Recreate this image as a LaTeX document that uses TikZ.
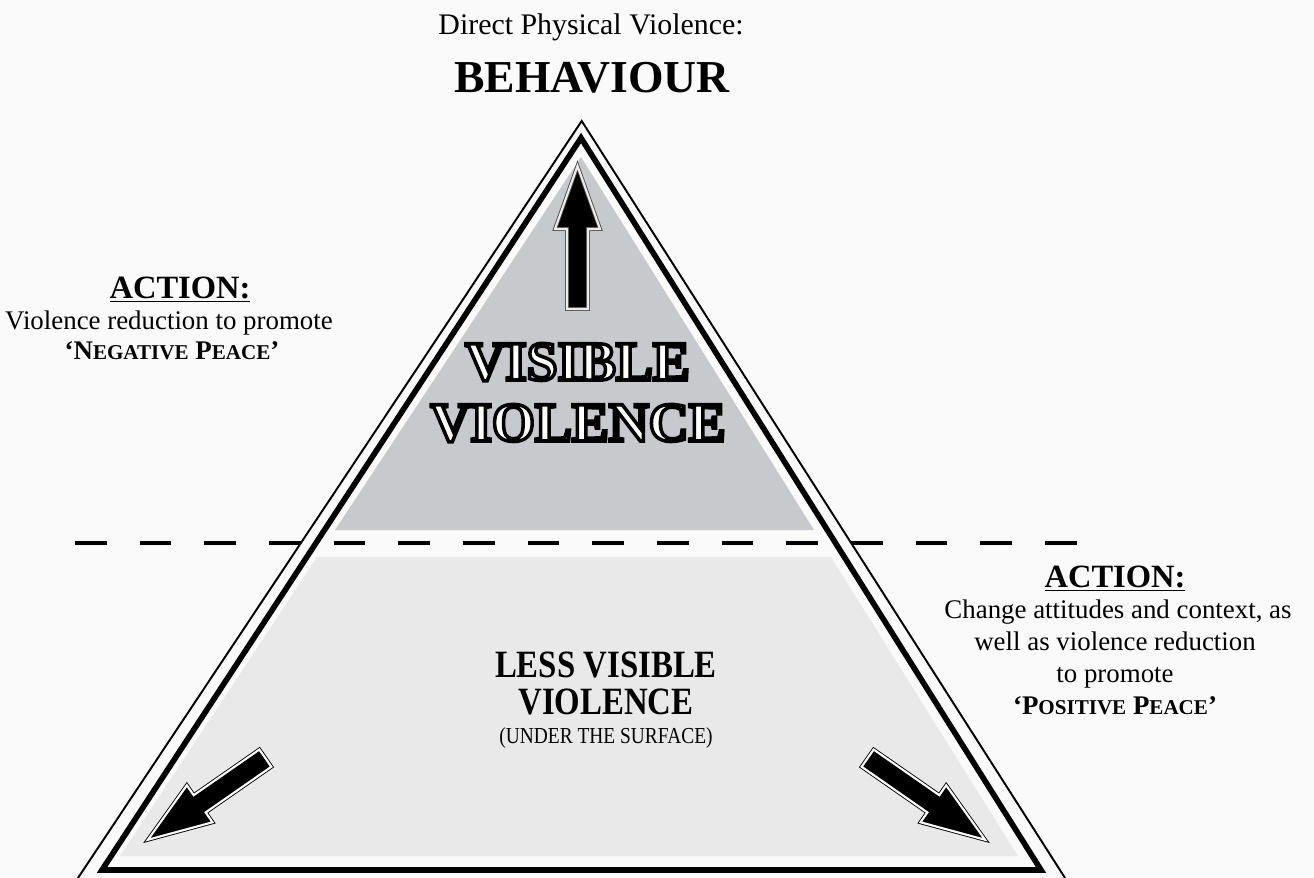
\documentclass[tikz,border=0pt]{standalone}
\usepackage{fontspec}
\setmainfont{Liberation Serif}
\newfontfamily\narrowface[FakeStretch=0.85]{Liberation Serif}
\usetikzlibrary{positioning,calc}
\definecolor{paper}  {HTML}{FAFAFA}
\definecolor{topgray}{HTML}{C8C9CC}
\definecolor{lowgray}{HTML}{E9E9EA}
\newcommand{\fsc}[1]{{\fontsize{12}{14}\selectfont #1}}
% white letters with a black rim (fill + stroke text mode)
\newcommand{\rimmed}[1]{\special{pdf:literal direct 0 0 0 RG 2.0 w 2 Tr}#1\special{pdf:literal direct 0 Tr}}
\tikzset{
  % --- lines
  rim/.style     = {draw=black, line width=1.1pt, line join=miter},
  frame/.style   = {draw=black, line width=3.2pt, line join=miter},
  surface/.style = {draw=black, line width=2.8pt, dash pattern=on 18.1pt off 18.7pt},
  blk/.style     = {fill=black, draw=black, line width=0.5pt, double=white,
                    double distance=1.2pt, line join=miter},
  blkup/.style   = {blk, draw=black!70, double=gray!15},
  % --- text
  txt/.style     = {anchor=base, inner sep=0pt, font=\fontsize{15.3}{18}\selectfont},
  head/.style    = {txt, font=\fontsize{18.5}{22}\selectfont\bfseries},
  big/.style     = {txt, font=\fontsize{26}{30}\selectfont\bfseries},
  hollow/.style  = {txt, text=white, font=\fontsize{31.5}{34}\selectfont\bfseries},
  deep/.style    = {txt, font=\narrowface\fontsize{22}{26}\selectfont\bfseries},
}
\begin{document}
\begin{tikzpicture}[x=0.02cm, y=-0.02cm]
  \useasboundingbox (0,0) rectangle (1314,878);
  \fill[paper] (0,0) rectangle (1314,878);
  \clip (0,0) rectangle (1314,878);

  % grey layers
  \fill[topgray] (581,157) -- (814,530) -- (335,530) -- cycle;
  \fill[lowgray] (317,557) -- (831,557) -- (1018,856) -- (120,856) -- cycle;

  % surface line
  \coordinate (sl) at (75,543);
  \coordinate (sr) at (1082,543);
  \draw[surface] (sl) -- (sr);

  % pyramid
  \coordinate (ot) at (581.7,121);
  \coordinate (ol) at (70,890);
  \coordinate (or) at (1072.7,890);
  \draw[rim] (ol) -- (ot) -- (or);
  \coordinate (it) at (581,138);
  \coordinate (il) at (102,870);
  \coordinate (ir) at (1041,870);
  \draw[frame] (it) -- (ir) -- (il) -- cycle;

  % block arrows
  \foreach \px/\py/\ang/\sty in {577.5/311/90/blkup, 267/757/214.8/blk, 866/757/-34.8/blk}
    \path[\sty, shift={(\px,\py)}, rotate=\ang]
      (2,-10.5) -- (82,-10.5) -- (82,-22.5) -- (145,0) -- (82,22.5) -- (82,10.5)
      -- (2,10.5) -- cycle;

  % top labels
  \node[txt, font=\fontsize{17}{20}\selectfont] (dpv) at (591,35) {Direct Physical Violence:};
  \node[big] (beh) at (592,93) {BEHAVIOUR};

  % inside the pyramid
  \node[hollow] (vis1) at (577.5,380) {\rimmed{VISIBLE}};
  \node[hollow] (vis2) at (578,441) {\rimmed{VIOLENCE}};
  \node[deep] (lv1) at (606,677) {LESS VISIBLE};
  \node[deep] (lv2) at (606,714) {VIOLENCE};
  \node[txt, font=\narrowface\fontsize{13}{16}\selectfont] (lv3) at (606,743) {(UNDER THE SURFACE)};

  % left action
  \node[head] (la1) at (180,298) {\underline{\textbf{ACTION:}}};
  \node[txt] (la2) at (169,330) {Violence reduction to promote};
  \node[txt, font=\fontsize{15.3}{18}\selectfont\bfseries] (la3) at (172,359)
    {`N\fsc{EGATIVE} P\fsc{EACE}'};

  % right action
  \node[head] (ra1) at (1115,587) {\underline{\textbf{ACTION:}}};
  \node[txt] (ra2) at (1118,618) {Change attitudes and context, as};
  \node[txt] (ra3) at (1115,650) {well as violence reduction};
  \node[txt] (ra4) at (1115,682) {to promote};
  \node[txt, font=\fontsize{15.3}{18}\selectfont\bfseries] (ra5) at (1115,714)
    {`P\fsc{OSITIVE} P\fsc{EACE}'};
\end{tikzpicture}
\end{document}
